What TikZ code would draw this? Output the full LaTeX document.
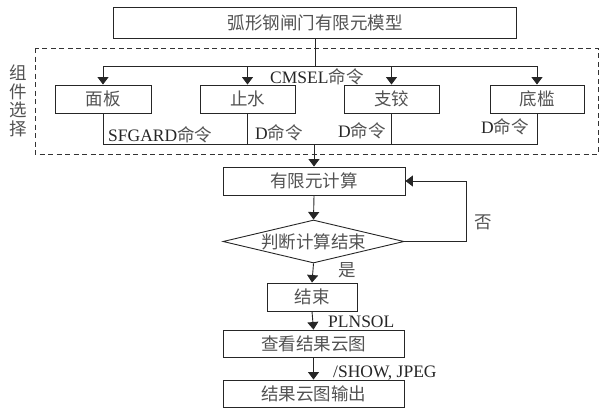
\documentclass[tikz,border=0pt]{standalone}
\usepackage{fontspec}
\setmainfont{Liberation Serif}
\newfontfamily\cjk{Noto Sans CJK SC}
\usetikzlibrary{arrows.meta,shapes.geometric}
\begin{document}
\begin{tikzpicture}[x=1pt,y=-1pt,
  box/.style={draw=black!85, line width=0.9pt, minimum height=28pt, inner sep=0pt,
    font=\cjk\fontsize{17.5}{20}\selectfont, text=black!68},
  arr/.style={draw=black!85, line width=0.9pt, -{Triangle[width=11pt,length=7.5pt]}},
  ln/.style={draw=black!85, line width=0.9pt},
  lbl/.style={inner sep=0pt, anchor=base west, font=\fontsize{17.5}{20}\selectfont, text=black!85},
  cjklbl/.style={inner sep=0pt, font=\cjk\fontsize{17.5}{18.7}\selectfont, text=black!68, align=center},
  grp/.style={draw=black!80, line width=0.8pt, dash pattern=on 5pt off 3.5pt}
]
\useasboundingbox (0,0) rectangle (604,410);

% group frame
\draw[grp] (35,48) rectangle (598,154);

% nodes
\node[box, minimum width=403pt, minimum height=31pt] (top) at (315,22.5) {弧形钢闸门有限元模型};
\node[box, minimum width=96pt] (p1) at (103,99) {面板};
\node[box, minimum width=95pt] (p2) at (247.5,99) {止水};
\node[box, minimum width=95pt] (p3) at (391.5,99) {支铰};
\node[box, minimum width=94pt] (p4) at (537,99) {底槛};
\node[box, minimum width=182pt] (fem) at (314,181) {有限元计算};
\node[box, shape=diamond, shape aspect=4.2, minimum width=181pt, minimum height=43pt] (dec) at (313.5,241.5) {判断计算结束};
\node[box, minimum width=90pt] (fin) at (312,297) {结束};
\node[box, minimum width=181pt, minimum height=27pt] (view) at (313.5,343.5) {查看结果云图};
\node[box, minimum width=181pt, minimum height=27pt] (outp) at (313.5,393.5) {结果云图输出};

% helper coordinates
\coordinate (hl) at (103,66);
\coordinate (hr) at (537,66);
\coordinate (bl) at (103,144);
\coordinate (br) at (537,144);
\coordinate (fb) at (466,181);

% connectors
\draw[ln] (top.south) -- (top.south |- hl);
\draw[ln] (hl) -- (hr);
\draw[arr] (hl) -- (p1.north);
\draw[arr] (p2.north |- hl) -- (p2.north);
\draw[arr] (p3.north |- hl) -- (p3.north);
\draw[arr] (hr) -- (p4.north);
\draw[ln] (p1.south) -- (bl) -- (br) -- (p4.south);
\draw[ln] (p2.south) -- (p2.south |- bl);
\draw[ln] (p3.south) -- (p3.south |- bl);
\draw[arr] (fem.north |- bl) -- (fem.north);
\draw[arr] (fem.south) -- (dec.north);
\draw[arr] (dec.south) -- (fin.north);
\draw[arr] (fin.south) -- (view.north);
\draw[arr] (view.south) -- (outp.north);
\draw[arr] (dec.east) -| (fb) -- (fem.east);

% labels
\node[lbl] (cmsel) at (270,83) {CMSEL{\cjk\color{black!68}命令}};
\node[lbl] (sfg) at (108,141) {SFGARD{\cjk\color{black!68}命令}};
\node[lbl] (d1) at (255,139) {D{\cjk\color{black!68}命令}};
\node[lbl] (d2) at (338,137) {D{\cjk\color{black!68}命令}};
\node[lbl] (d3) at (481,133) {D{\cjk\color{black!68}命令}};
\node[lbl] (pln) at (328,327) {PLNSOL};
\node[lbl] (show) at (333,377) {/SHOW, JPEG};
\node[cjklbl] (no) at (483,222) {否};
\node[cjklbl] (yes) at (347,270) {是};
\node[cjklbl] (grpl) at (18,101) {组\\件\\选\\择};
\end{tikzpicture}
\end{document}
